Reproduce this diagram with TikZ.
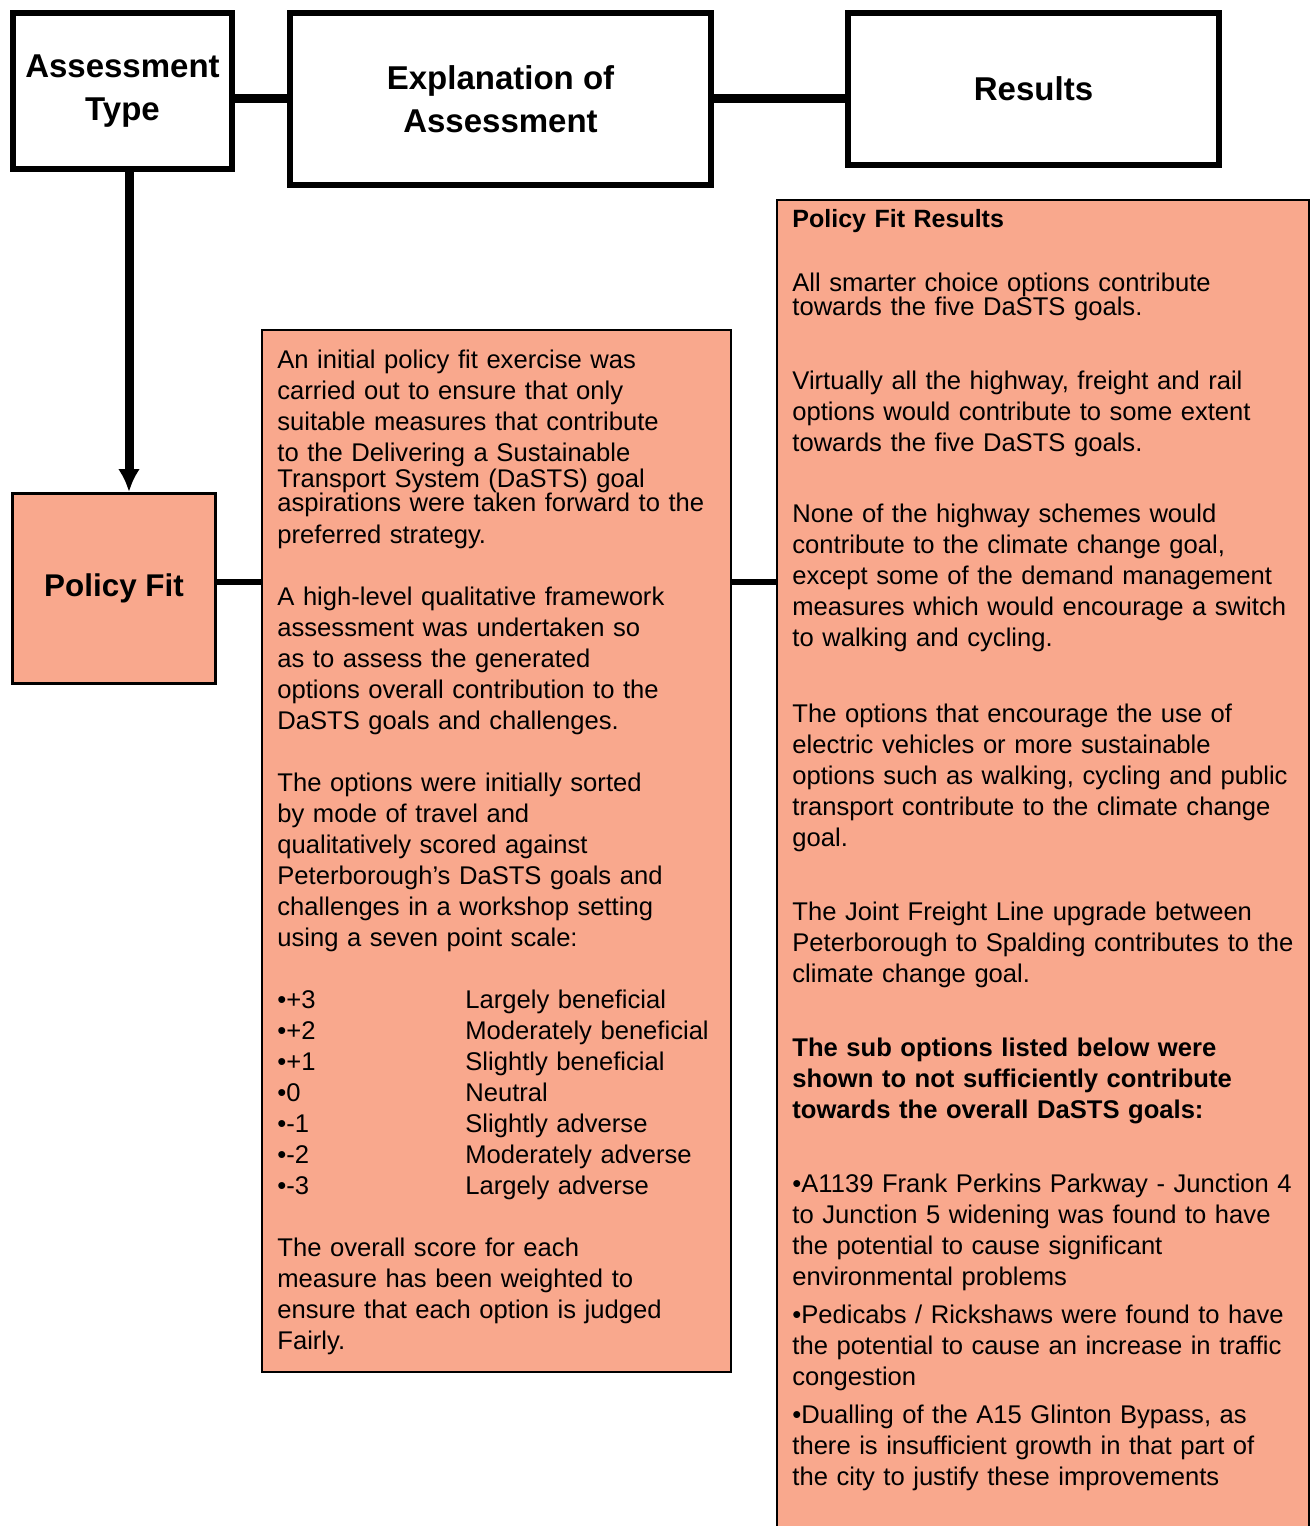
\documentclass[tikz,border=0pt]{standalone}
\usepackage{fontspec}
\setmainfont{Liberation Sans}
\usepackage{tikz}
\usetikzlibrary{shapes,arrows.meta,calc}
\definecolor{pfsalmon}{RGB}{249,168,141}
\tikzset{
headbox/.style = {draw, fill=white, rectangle, align = center, line width=3pt, inner sep=0pt, font=\bfseries\fontsize{16.5}{21.5}\selectfont},
typebox/.style = {draw, fill=pfsalmon, rectangle, align = center, line width=1.5pt, inner sep=0pt, font=\bfseries\fontsize{15.7}{19}\selectfont},
textbox/.style = {draw, fill=pfsalmon, rectangle, line width=1pt, inner sep=0pt},
bodytext/.style = {align=left, inner sep=0pt, anchor=base west, font=\fontsize{12.8}{15.5}\selectfont},
link/.style = {line width=4.5pt},
sidelink/.style = {line width=3pt}
}

\begin{document}
\begin{tikzpicture}[auto, x=0.5pt, y=-0.5pt, >={Latex[length=11.5pt,width=11pt]}]
  \useasboundingbox (0,0) rectangle (1310,1526);
  % header row
  \node [headbox, minimum width=109.5pt, minimum height=78pt] (type) at (122.5,91) {Assessment\\Type};
  \node [headbox, minimum width=210.5pt, minimum height=86pt] (expl) at (500.5,99) {Explanation of\\Assessment};
  \node [headbox, minimum width=185.5pt, minimum height=76pt] (res) at (1033.5,89) {Results};
  \draw [link] (type.east |- 0,98) -- (expl.west |- 0,98);
  \draw [link] (expl.east |- 0,98) -- (res.west |- 0,98);

  % policy fit row
  \node [typebox, minimum width=101.5pt, minimum height=95pt] (pfit) at (114,588.5) {Policy Fit};
  \node [textbox, minimum width=234.5pt, minimum height=521pt] (mid) at (496.5,851) {};
  \node [textbox, minimum width=266pt, minimum height=670pt] (rbox) at (1043,870) {};
  \draw [link, ->] (type.south -| 129,0) -- (pfit.north -| 129,0);
  \draw [sidelink] (pfit.east |- 0,582) -- (mid.west |- 0,582);
  \draw [sidelink] (mid.east |- 0,582) -- (rbox.west |- 0,582);

  \node [bodytext, text width=232pt] (midtxt) at ($(mid.north west)+(16,39)$) {%
An initial policy fit exercise was\\
carried out to ensure that only\\
suitable measures that contribute\\
to the Delivering a Sustainable\\[-2.5pt]
Transport System (DaSTS) goal\\[-3.5pt]
aspirations were taken forward to the\\[0.5pt]
preferred strategy.\\[15.5pt]
A high-level qualitative framework\\
assessment was undertaken so\\
as to assess the generated\\
options overall contribution to the\\
DaSTS goals and challenges.\\[15.5pt]
The options were initially sorted\\
by mode of travel and\\
qualitatively scored against\\
Peterborough’s DaSTS goals and\\
challenges in a workshop setting\\
using a seven point scale:\\[15.5pt]
\makebox[94pt][l]{•+3}Largely beneficial\\
\makebox[94pt][l]{•+2}Moderately beneficial\\
\makebox[94pt][l]{•+1}Slightly beneficial\\
\makebox[94pt][l]{•0}Neutral\\
\makebox[94pt][l]{•-1}Slightly adverse\\
\makebox[94pt][l]{•-2}Moderately adverse\\
\makebox[94pt][l]{•-3}Largely adverse\\[15.5pt]
The overall score for each\\
measure has been weighted to\\
ensure that each option is judged\\
Fairly.};

  \node [bodytext, text width=262pt] (restxt) at ($(rbox.north west)+(16,28)$) {%
{\bfseries\fontsize{12.5}{15.5}\selectfont Policy Fit Results}\\[16.5pt]
All smarter choice options contribute\\[-3.5pt]
towards the five DaSTS goals.\\[21.5pt]
Virtually all the highway, freight and rail\\
options would contribute to some extent\\
towards the five DaSTS goals.\\[20pt]
None of the highway schemes would\\
contribute to the climate change goal,\\
except some of the demand management\\
measures which would encourage a switch\\
to walking and cycling.\\[22.5pt]
The options that encourage the use of\\
electric vehicles or more sustainable\\
options such as walking, cycling and public\\
transport contribute to the climate change\\
goal.\\[21.5pt]
The Joint Freight Line upgrade between\\
Peterborough to Spalding contributes to the\\
climate change goal.\\[21.5pt]
{\bfseries The sub options listed below were\\
shown to not sufficiently contribute\\
towards the overall DaSTS goals:}\\[21.5pt]
•A1139 Frank Perkins Parkway - Junction 4\\
to Junction 5 widening was found to have\\
the potential to cause significant\\
environmental problems\\[3.5pt]
•Pedicabs / Rickshaws were found to have\\
the potential to cause an increase in traffic\\
congestion\\[3.5pt]
•Dualling of the A15 Glinton Bypass, as\\
there is insufficient growth in that part of\\
the city to justify these improvements};
\end{tikzpicture}
\end{document}
